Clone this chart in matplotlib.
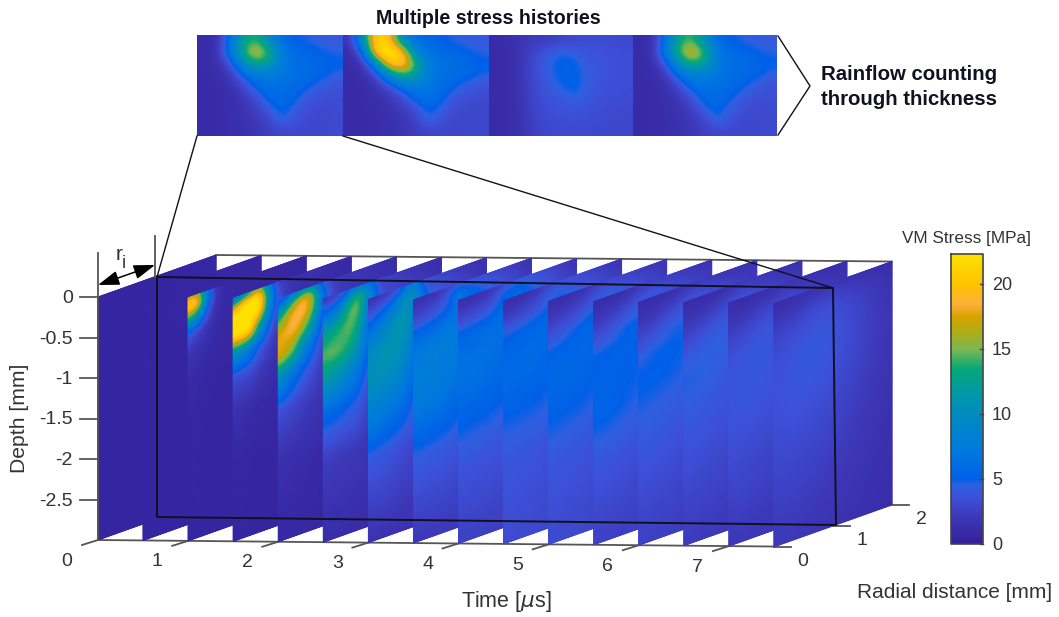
import numpy as np
import matplotlib
matplotlib.use('Agg')
import matplotlib.pyplot as plt
from matplotlib.colors import LinearSegmentedColormap

plt.rcParams['font.family'] = ['Liberation Sans', 'DejaVu Sans']

# slice grids: radial position (rows) by depth (columns)
radial = [0, 0.15, 0.3, 0.45, 0.6, 0.75, 1.0, 2.0]
depth = [0, -0.1, -0.25, -0.45, -0.7, -1.0, -1.4, -2.0, -3.0]
times = [0, 0.5, 1, 1.5, 2, 2.5, 3, 3.5, 4, 4.5, 5, 5.5, 6, 6.5, 7, 7.5]

s00 = [[0.5, 0.5, 0.5, 0.5, 0.5, 0.5, 0.5, 0.5, 0.5]] * 7 + [[0.6, 0.6, 0.6, 0.6, 0.6, 0.5, 0.5, 0.5, 0.5]]
s05 = [[0.6, 0.6, 0.6, 0.6, 0.6, 0.5, 0.5, 0.5, 0.5]] * 7 + [[0.7, 0.7, 0.7, 0.6, 0.6, 0.6, 0.5, 0.5, 0.5]]
s10 = [[15, 22.3, 15, 4.5, 1.8, 1, 0.7, 0.6, 0.5],
       [17, 22.3, 12, 3.2, 1.4, 0.9, 0.7, 0.6, 0.5],
       [9, 10, 5, 1.8, 1, 0.7, 0.6, 0.5, 0.5],
       [1.6, 2, 1.4, 1, 0.8, 0.6, 0.6, 0.5, 0.5],
       [0.9, 0.9, 0.8, 0.8, 0.7, 0.6, 0.5, 0.5, 0.5],
       [0.8, 0.8, 0.8, 0.7, 0.6, 0.6, 0.5, 0.5, 0.5],
       [0.7, 0.7, 0.7, 0.7, 0.6, 0.6, 0.5, 0.5, 0.5],
       [0.6, 0.6, 0.6, 0.6, 0.6, 0.5, 0.5, 0.5, 0.5]]
s15 = [[5, 14, 23, 23, 10, 3.5, 1.5, 0.7, 0.5],
       [7, 20, 24, 24, 9, 3.2, 1.3, 0.7, 0.5],
       [11, 23, 24, 22, 7.5, 3, 1.1, 0.6, 0.5],
       [16, 24, 23, 12, 4.5, 2.2, 0.9, 0.6, 0.5],
       [8, 11, 10, 6, 3, 1.6, 0.8, 0.6, 0.5],
       [2.5, 3.5, 3.5, 2.5, 1.6, 1, 0.7, 0.6, 0.5],
       [1.5, 1.5, 1.5, 1.4, 1.1, 0.9, 0.7, 0.6, 0.5],
       [0.8, 0.8, 0.8, 0.8, 0.7, 0.7, 0.6, 0.5, 0.5]]
s20 = [[2.5, 6, 12, 17.5, 18, 10, 3.5, 1.5, 0.7],
       [4, 10, 17, 18.5, 17, 8, 3.2, 1.3, 0.7],
       [6, 16, 19, 19, 14, 6, 2.8, 1.2, 0.7],
       [10, 19, 19.5, 16, 8.5, 4.5, 2.3, 1.1, 0.7],
       [10, 16, 15.5, 11, 6, 3.5, 2, 1, 0.7],
       [3.5, 6, 6, 4.5, 3, 2.2, 1.5, 0.9, 0.6],
       [2, 2.2, 2.2, 2, 1.6, 1.3, 1, 0.8, 0.6],
       [1, 1, 1, 1, 0.9, 0.8, 0.7, 0.6, 0.5]]
s25 = [[1.5, 3.5, 7, 12, 14.5, 12, 6, 2.5, 1],
       [2, 4, 8, 13, 15, 11.5, 5.8, 2.3, 1],
       [2.5, 5.5, 10.5, 14, 14.5, 10.5, 5.5, 2.2, 1],
       [4.5, 11, 14.5, 15, 13.5, 9, 5, 2.1, 1],
       [8, 14.5, 15.5, 13.5, 11, 7.5, 4.5, 2, 1],
       [6, 10, 9, 7, 6, 4.5, 3, 1.7, 1],
       [2.5, 3, 3.5, 3.5, 3, 2.5, 1.8, 1.2, 0.8],
       [1, 1.2, 1.2, 1.2, 1.1, 1, 0.9, 0.7, 0.6]]
s30 = [[1.2, 2.5, 4, 6.5, 10, 10.5, 8.5, 4, 1.5],
       [1.5, 3, 5, 8, 10.5, 10.5, 8, 4, 1.5],
       [2, 3.5, 6.5, 9.5, 11, 10.5, 7.5, 3.8, 1.5],
       [2.5, 5, 8.5, 11, 11, 10, 7, 3.5, 1.5],
       [4, 9, 11, 11.5, 10.5, 9, 6.5, 3.2, 1.5],
       [8, 11, 10, 9, 8, 6.5, 5, 3, 1.5],
       [3, 4, 5, 5, 4.5, 4, 3, 2, 1.2],
       [1.2, 1.4, 1.5, 1.5, 1.4, 1.3, 1.1, 0.9, 0.7]]
s35 = [[1.2, 2, 3, 5.5, 7.5, 8, 7, 4.2, 2],
       [1.3, 2.1, 3.2, 5.8, 7.5, 8, 7, 4.2, 2],
       [1.4, 2.2, 3.6, 6, 7.8, 7.8, 6.8, 4.1, 2],
       [1.8, 2.8, 4.2, 6.5, 7.8, 7.6, 6.6, 4, 2],
       [2.5, 4, 5, 7, 7.8, 7.4, 6.2, 3.9, 2],
       [3, 7.5, 6.5, 7, 7.5, 7, 5.8, 3.6, 2],
       [3.5, 5, 6, 6.5, 6, 5.5, 4.5, 2.8, 1.6],
       [1.5, 1.7, 1.8, 1.8, 1.8, 1.7, 1.5, 1.2, 1]]
s40 = [[1.2, 1.8, 3, 5.5, 6.3, 6.5, 5.6, 3.9, 2.5],
       [1.3, 1.9, 3.2, 5.6, 6.3, 6.5, 5.5, 3.9, 2.5],
       [1.4, 2, 3.4, 5.8, 6.4, 6.4, 5.4, 3.8, 2.5],
       [1.6, 2.3, 3.8, 6, 6.4, 6.2, 5.3, 3.8, 2.4],
       [2, 3, 4.4, 6.2, 6.4, 6, 5.2, 3.7, 2.4],
       [2.5, 5, 5.5, 6.2, 6.2, 5.8, 5, 3.6, 2.3],
       [4, 5.5, 6, 6, 5.5, 5.2, 4.4, 3.2, 2],
       [1.5, 1.8, 2, 2, 2, 2, 1.8, 1.5, 1.2]]
s45 = [[1.1, 1.6, 2.6, 4.8, 5.7, 6, 5.1, 3.9, 3.2],
       [1.2, 1.7, 2.8, 5, 5.8, 6, 5.1, 3.9, 3.2],
       [1.3, 1.9, 3.1, 5.2, 5.9, 5.9, 5, 3.8, 3.1],
       [1.5, 2.2, 3.5, 5.5, 6, 5.8, 5, 3.8, 3.1],
       [1.8, 2.7, 4, 5.7, 6, 5.7, 4.9, 3.7, 3],
       [2.3, 4, 4.8, 5.8, 5.8, 5.5, 4.7, 3.5, 2.9],
       [3.5, 4.5, 5.2, 5.6, 5.4, 5, 4.3, 3.2, 2.4],
       [1.6, 1.9, 2.2, 2.2, 2.2, 2.1, 1.9, 1.6, 1.3]]
s50 = [[1.1, 1.5, 2.2, 3.6, 5.3, 5.8, 5.2, 4, 3.1],
       [1.1, 1.6, 2.4, 3.9, 5.4, 5.8, 5.2, 3.9, 3.1],
       [1.2, 1.7, 2.7, 4.3, 5.6, 5.8, 5.1, 3.8, 3],
       [1.3, 2, 3.1, 4.8, 5.7, 5.6, 5, 3.8, 3],
       [1.5, 2.4, 3.6, 5.3, 5.7, 5.5, 4.9, 3.7, 2.9],
       [2, 3.1, 4.3, 5.6, 5.6, 5.3, 4.7, 3.5, 2.8],
       [3, 4, 5, 5.4, 5.2, 4.8, 4.1, 3.2, 2.4],
       [1.6, 2, 2.3, 2.4, 2.4, 2.3, 2.1, 1.7, 1.4]]
s55 = [[1, 1.4, 2, 3.2, 5, 5.4, 5.3, 4, 2.6],
       [1, 1.5, 2.2, 3.6, 5.1, 5.4, 5.3, 3.9, 2.5],
       [1.1, 1.6, 2.5, 4, 5.2, 5.4, 5.2, 3.8, 2.5],
       [1.2, 1.8, 3, 4.6, 5.3, 5.3, 5, 3.7, 2.4],
       [1.4, 2.2, 3.5, 5, 5.3, 5.1, 4.8, 3.6, 2.4],
       [1.8, 2.9, 4.2, 5.1, 5.2, 5, 4.6, 3.4, 2.3],
       [2.5, 3.5, 4.5, 5, 4.9, 4.5, 4, 3.1, 2.1],
       [1.5, 1.9, 2.3, 2.4, 2.4, 2.3, 2.1, 1.7, 1.4]]
s60 = [[1, 1.3, 1.9, 3, 4.4, 5.2, 4.6, 3.7, 2.5],
       [1, 1.4, 2, 3.2, 4.7, 5.2, 4.5, 3.7, 2.5],
       [1.1, 1.5, 2.3, 3.7, 5, 5.1, 4.4, 3.6, 2.4],
       [1.1, 1.7, 2.7, 4.2, 5.1, 5, 4.3, 3.5, 2.4],
       [1.3, 2, 3.2, 4.7, 5.1, 4.9, 4.2, 3.4, 2.3],
       [1.6, 2.5, 3.8, 4.8, 5, 4.7, 4.1, 3.2, 2.2],
       [2, 3, 4.2, 4.6, 4.4, 4.1, 3.7, 3, 2],
       [1.4, 1.8, 2.2, 2.3, 2.3, 2.2, 2, 1.6, 1.3]]
s65 = [[1, 1.3, 1.8, 2.8, 4, 4.8, 4.2, 3.5, 2.2],
       [1, 1.4, 1.9, 3, 4.3, 4.7, 4.1, 3.4, 2.2],
       [1, 1.4, 2.2, 3.4, 4.5, 4.6, 4, 3.3, 2.1],
       [1.1, 1.6, 2.5, 3.8, 4.6, 4.4, 3.9, 3.2, 2.1],
       [1.2, 1.8, 3, 4.2, 4.6, 4.2, 3.8, 3.1, 2],
       [1.4, 2.2, 3.4, 4.3, 4.4, 4, 3.6, 3, 2],
       [2, 3, 3.9, 4.1, 4, 3.8, 3.4, 2.8, 1.9],
       [1.3, 1.6, 2, 2.2, 2.2, 2.1, 1.9, 1.5, 1.2]]
s70 = [[1, 1.3, 1.8, 2.7, 3.4, 3.8, 3.8, 3.2, 2],
       [1, 1.4, 1.9, 2.9, 3.6, 3.9, 3.8, 3.2, 2],
       [1, 1.4, 2.1, 3.2, 3.8, 4, 3.8, 3.1, 2],
       [1.1, 1.6, 2.5, 3.5, 4, 4, 3.7, 3, 1.9],
       [1.2, 1.8, 2.8, 3.7, 4, 3.9, 3.6, 2.9, 1.9],
       [1.3, 2, 3.1, 3.8, 3.9, 3.8, 3.5, 2.8, 1.8],
       [1.6, 2.5, 3.3, 3.7, 3.8, 3.6, 3.2, 2.6, 1.7],
       [1.1, 1.4, 1.7, 1.9, 1.9, 1.9, 1.7, 1.4, 1.1]]
s75 = [[1, 1.5, 2, 2.8, 3.3, 3.5, 3.5, 3, 2],
       [1, 1.5, 2.2, 3, 3.5, 3.7, 3.6, 3, 2],
       [1.1, 1.6, 2.4, 3.2, 3.7, 3.8, 3.7, 3, 2],
       [1.2, 1.8, 2.7, 3.4, 3.9, 4, 3.6, 2.9, 1.9],
       [1.3, 2, 3, 3.6, 4, 4, 3.5, 2.8, 1.8],
       [1.4, 2.2, 3.2, 3.8, 4, 3.9, 3.4, 2.7, 1.7],
       [1.6, 2.5, 3.3, 3.7, 3.8, 3.6, 3.1, 2.5, 1.6],
       [1, 1.3, 1.5, 1.6, 1.7, 1.6, 1.5, 1.3, 1]]
slices = [s00, s05, s10, s15, s20, s25, s30, s35, s40, s45, s50, s55, s60, s65, s70, s75]

# the four stress histories at the top, depth down, radius across
hist1 = [[1, 1.2, 6, 12.5, 14, 9.5, 5.5, 5, 4.5, 4.2, 4],
         [1, 1.3, 7, 14, 18, 13.5, 7, 6, 5.5, 5, 4.6],
         [1, 1.2, 3.5, 10, 13.5, 12, 7, 6.2, 5.8, 5.5, 5.2],
         [1, 1.1, 2, 5.5, 7.5, 7.5, 6.8, 6.2, 5.8, 5.4, 4.4],
         [1, 1, 1.5, 2.8, 6, 6.5, 6.2, 5.8, 5.2, 4, 3.6],
         [1, 1, 1.3, 2, 3.5, 6, 6, 5.3, 3.7, 3.4, 3.3],
         [1, 1, 1.2, 1.7, 2.5, 4.5, 5.6, 4, 3.3, 3.1, 3.2],
         [1, 1, 1.2, 1.5, 2.1, 3, 5.2, 3.4, 3.1, 3, 3.2],
         [1, 1, 1.2, 1.4, 1.9, 2.5, 2.9, 3, 3, 3, 3.2]]
hist2 = [[1.5, 10, 22, 20, 9, 6, 5.5, 5, 4.5, 4.2, 4],
         [1, 4.5, 22.3, 24, 20, 8, 6.5, 6, 5.5, 5, 4.6],
         [1, 1.6, 9, 21, 21, 14, 7, 6.5, 6, 5.6, 5.2],
         [1, 1.1, 3, 10, 14.5, 12.5, 7, 6.5, 6, 5.6, 4.8],
         [1, 1, 1.6, 3.5, 7, 7.5, 7, 6, 5.2, 4, 3.6],
         [1, 1, 1.3, 2, 3.2, 6.5, 6.5, 5.5, 3.6, 3.3, 3.2],
         [1, 1, 1.1, 1.6, 2.2, 3.5, 5.8, 4.2, 3.2, 3, 3],
         [1, 1, 1.1, 1.4, 1.9, 2.6, 5, 3.3, 3, 3, 3],
         [1, 1, 1.1, 1.3, 1.7, 2.3, 2.8, 2.9, 2.9, 3, 3]]
hist3 = [[1, 1.2, 1.8, 2.2, 2.2, 2.6, 3, 3.2, 3.2, 3.2, 3],
         [1, 1.1, 1.8, 3, 3.8, 4.6, 4.2, 3.8, 3.6, 3.4, 3.3],
         [1, 1.1, 1.9, 3.2, 4.5, 5.4, 5.2, 4, 3.7, 3.5, 3.4],
         [1, 1.1, 1.9, 3.2, 4.2, 5.4, 5.4, 4.2, 3.7, 3.5, 3.4],
         [1, 1.1, 1.9, 3.1, 3.9, 4.8, 5.4, 4.3, 3.6, 3.4, 3.3],
         [1, 1.1, 1.8, 3, 3.6, 4, 4.8, 4, 3.5, 3.3, 3.3],
         [1, 1.1, 1.7, 2.9, 3.4, 3.6, 3.7, 3.5, 3.3, 3.2, 3.1],
         [1, 1.1, 1.7, 2.8, 3.2, 3.3, 3.4, 3.3, 3.2, 3.1, 3],
         [1, 1.1, 1.6, 2.6, 3, 3.1, 3.1, 3.1, 3, 3, 3]]
hist4 = [[1, 1.2, 6.5, 13, 14.5, 10, 5.5, 5, 4.5, 4.2, 4],
         [1, 1.3, 7.5, 14.5, 18.5, 14, 7, 6, 5.5, 5, 4.6],
         [1, 1.2, 4, 10.5, 14, 12.5, 7, 6.2, 5.8, 5.5, 5.2],
         [1, 1.1, 2.2, 6, 8, 8, 6.8, 6.2, 5.8, 5.4, 4.4],
         [1, 1, 1.5, 3, 6.2, 6.6, 6.3, 5.8, 5.2, 4, 3.6],
         [1, 1, 1.3, 2, 3.6, 6, 6, 5.3, 3.7, 3.4, 3.3],
         [1, 1, 1.2, 1.7, 2.5, 4.6, 5.6, 4, 3.3, 3.1, 3.2],
         [1, 1, 1.2, 1.5, 2.1, 3, 5.2, 3.4, 3.1, 3, 3.2],
         [1, 1, 1.2, 1.4, 1.9, 2.5, 2.9, 3, 3, 3, 3.2]]
histories = [hist1, hist2, hist3, hist4]

depth_ticks = [0, -0.5, -1, -1.5, -2, -2.5]
depth_labels = ['0', '-0.5', '-1', '-1.5', '-2', '-2.5']
time_ticks = [0, 1, 2, 3, 4, 5, 6, 7]
radial_ticks = [0, 1, 2]
cbar_ticks = [0, 5, 10, 15, 20]
vmax = 22.3

# colours
cmap_vals = [0, 2, 3.5, 4.5, 5, 7, 10, 11.5, 13.5, 15, 16.5, 17.5, 18.5, 20, 22.3]
cmap_cols = ['#34209a', '#3d38b8', '#3d50d8', '#2e60e0', '#0060e8', '#0078e0', '#008cc0', '#0098a8',
             '#08a878', '#7cb850', '#b4ac10', '#d8a400', '#fdb03a', '#ffc400', '#ffe100']
parula = LinearSegmentedColormap.from_list('par', [(v / vmax, c) for v, c in zip(cmap_vals, cmap_cols)], N=256)

axis_col = '#555555'
text_col = '#333333'


# oblique view: time goes right, radius goes back, depth goes down (pixels)
def proj(t, r, z):
    t, r, z = np.asarray(t, float), np.asarray(r, float), np.asarray(z, float)
    return 98 + t * 90.13 + r * 59, 297 + t * 0.87 - r * 21 - z * 81


def box(a, n, axis):
    k = np.ones(n) / n
    return np.apply_along_axis(lambda v: np.convolve(np.pad(v, n // 2, mode='edge'), k, 'valid'), axis, a)


# resample a slice on a fine mesh and soften it, the picture is blurred too
fine_r = np.linspace(0, 2, 121)
fine_z = np.linspace(0, -3, 241)


def resample(grid):
    g = np.array(grid, float)
    a = np.array([np.interp(-fine_z, -np.array(depth), g[i]) for i in range(len(radial))])
    a = np.array([np.interp(fine_r, radial, a[:, j]) for j in range(len(fine_z))]).T
    for _ in range(3):
        a = box(a, 7, 0)
        a = box(a, 7, 1)
    return a


fig = plt.figure(figsize=(10.59, 6.17), dpi=100)
ax = fig.add_axes([0, 0, 1, 1])

R, Z = np.meshgrid(fine_r, fine_z, indexing='ij')
for t, grid in zip(times, slices):
    X, Y = proj(t, R, Z)
    ax.pcolormesh(X, Y, resample(grid), cmap=parula, vmin=0, vmax=vmax, shading='gouraud', zorder=2 + t)

# axes of the box
bx, by = proj([0, 7.5], [0, 0], -3)
ax.plot(bx, by, color=axis_col, lw=1.3, zorder=1)
bx, by = proj([7.5, 7.5], [0, 2], -3)
ax.plot(bx, by, color=axis_col, lw=1.3, zorder=1)
bx, by = proj([0, 7.5], [2, 2], 0)
ax.plot(bx, by, color=axis_col, lw=1.3, zorder=1)
bx, by = proj([0, 0], [0, 0], [0, -3])
ax.plot(bx - 0.5, by, color=axis_col, lw=1.3, zorder=20)

for d, lab in zip(depth_ticks, depth_labels):
    x0, y0 = proj(0, 0, d)
    ax.plot([x0 - 18, x0], [y0, y0], color=axis_col, lw=1.3, zorder=1)
    ax.text(73, y0 + 1.5, lab, ha='right', va='center', fontsize=14, color=text_col)
for t in time_ticks:
    x0, y0 = proj(t, 0, -3)
    ax.plot([x0 - 16, x0], [y0 + 5, y0], color=axis_col, lw=1.3, zorder=1)
    ax.text(x0 - 31, y0 + 21, str(t), ha='center', va='center', fontsize=14, color=text_col)
for r in radial_ticks:
    x0, y0 = proj(7.5, r, -3)
    ax.plot([x0, x0 + 17], [y0, y0], color=axis_col, lw=1.3, zorder=1)
    ax.text(x0 + 29, y0 + 15, str(r), ha='center', va='center', fontsize=14, color=text_col)

ax.text(20, 418, 'Depth [mm]', rotation=90, ha='center', va='center', fontsize=15.2, color=text_col)
ax.text(506, 602, r'Time [$\mu$s]', ha='center', va='center', fontsize=15.5, color=text_col)
ax.text(955, 592, 'Radial distance [mm]', ha='center', va='center', fontsize=15, color=text_col)

# colour bar
ax.imshow(np.linspace(vmax, 0, 256).reshape(-1, 1), cmap=parula, vmin=0, vmax=vmax,
          extent=[951, 983, 544, 254], aspect='auto', zorder=30)
ax.plot([951, 983, 983, 951, 951], [254, 254, 544, 544, 254], color='#444444', lw=1.2, zorder=31)
for v in cbar_ticks:
    yv = 544 - v * 290 / vmax
    ax.plot([980, 983], [yv, yv], color='#444444', lw=1, zorder=31)
    ax.text(992, yv + 2, str(v), ha='left', va='center', fontsize=13, color=text_col)
ax.text(966, 238, 'VM Stress [MPa]', ha='center', va='center', fontsize=12.3, color=text_col)

# stress history strip
edges = [197, 343, 489, 633, 777]
for k, h in enumerate(histories):
    ax.imshow(np.array(h, float), cmap=parula, vmin=0, vmax=vmax, interpolation='bicubic',
              extent=[edges[k], edges[k + 1], 136, 35], aspect='auto', zorder=30)
ax.text(488, 19, 'Multiple stress histories', ha='center', va='center', fontsize=14.1, fontweight='bold', color='#111122')
ax.text(821, 87, 'Rainflow counting\nthrough thickness', ha='left', va='center', fontsize=14.7, fontweight='bold',
        color='#111122', linespacing=1.36)

# r = ri plane and the lines linking it to the strip
line_col = '#101020'
ax.plot([157, 833, 836, 157, 157], [277, 288, 525, 517, 277], color=line_col, lw=1.4, zorder=40)
ax.plot([197, 157], [136, 277], color=line_col, lw=1, zorder=40)
ax.plot([343, 833], [136, 288], color=line_col, lw=1, zorder=40)
ax.plot([778, 810, 778], [36, 86, 135], color=line_col, lw=1, zorder=40)

ax.plot([98, 98], [253, 297], color=axis_col, lw=1.3, zorder=40)
ax.plot([155, 155], [236, 277], color=axis_col, lw=1.3, zorder=40)
ax.annotate('', xy=(98, 285), xytext=(155, 265), zorder=41,
            arrowprops=dict(arrowstyle='<|-|>,head_length=0.65,head_width=0.22', color='black', lw=1.1,
                            mutation_scale=20, shrinkA=0, shrinkB=0))
ax.text(119, 254, 'r', ha='center', va='center', fontsize=15, color=text_col)
ax.text(124, 263, 'i', ha='center', va='center', fontsize=13, color=text_col)

ax.set_xlim(0, 1059)
ax.set_ylim(617, 0)
ax.axis('off')
fig.savefig('out.png', dpi=100)
